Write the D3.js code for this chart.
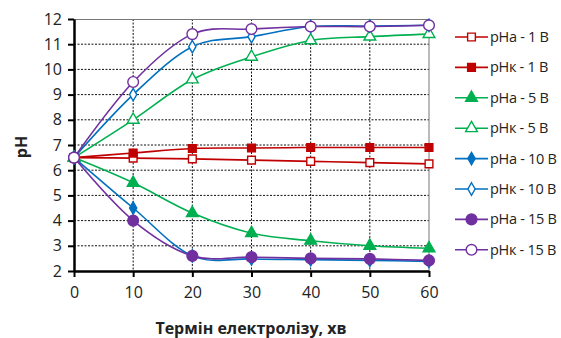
<!DOCTYPE html>
<html>
<head>
<meta charset="utf-8">
<script src="https://cdn.jsdelivr.net/npm/d3@7"></script>
<style>
  body { margin: 0; background: #fff; }
  text { font-family: "Open Sans", "Liberation Sans", sans-serif; fill: #222; }
</style>
</head>
<body>
<div id="chart"></div>
<script>
// time, min
let minutes = [0, 10, 20, 30, 40, 50, 60];

let seriesNames = ["pHa - 1 В", "pHк - 1 В", "pHa - 5 В", "pHк - 5 В",
                   "pHa - 10 В", "pHк - 10 В", "pHa - 15 В", "pHк - 15 В"];

let pHa1  = [6.5, 6.48, 6.45, 6.4, 6.35, 6.3, 6.25];
let pHk1  = [6.5, 6.68, 6.86, 6.88, 6.9, 6.9, 6.9];
let pHa5  = [6.5, 5.5, 4.3, 3.5, 3.2, 3.0, 2.9];
let pHk5  = [6.5, 8.0, 9.6, 10.5, 11.15, 11.3, 11.4];
let pHa10 = [6.5, 4.5, 2.6, 2.48, 2.45, 2.42, 2.38];
let pHk10 = [6.5, 9.0, 10.9, 11.3, 11.7, 11.72, 11.75];
let pHa15 = [6.5, 4.0, 2.6, 2.55, 2.5, 2.48, 2.42];
let pHk15 = [6.5, 9.5, 11.4, 11.6, 11.7, 11.7, 11.75];

let xTicks = [0, 10, 20, 30, 40, 50, 60];
let yTicks = [2, 3, 4, 5, 6, 7, 8, 9, 10, 11, 12];

let red = "#c00000", green = "#00b050", blue = "#0070c0", purple = "#7030a0";

// marker: shape + filled or not
let series = [
    {name: seriesNames[0], values: pHa1,  color: red,    shape: "square",   filled: false, size: 60},
    {name: seriesNames[1], values: pHk1,  color: red,    shape: "square",   filled: true,  size: 60},
    {name: seriesNames[2], values: pHa5,  color: green,  shape: "triangle", filled: true,  size: 60},
    {name: seriesNames[3], values: pHk5,  color: green,  shape: "triangle", filled: false, size: 60},
    {name: seriesNames[4], values: pHa10, color: blue,   shape: "diamond",  filled: true,  size: 45},
    {name: seriesNames[5], values: pHk10, color: blue,   shape: "diamond",  filled: false, size: 45},
    {name: seriesNames[6], values: pHa15, color: purple, shape: "circle",   filled: true,  size: 90},
    {name: seriesNames[7], values: pHk15, color: purple, shape: "circle",   filled: false, size: 90}
];

let symbolTypes = {
    square: d3.symbolSquare,
    triangle: d3.symbolTriangle,
    diamond: d3.symbolDiamond,
    circle: d3.symbolCircle
};

let margin = {top: 19, right: 132, bottom: 67, left: 74};
let width = 561, height = 338;
let plotW = width - margin.left - margin.right;
let plotH = height - margin.top - margin.bottom;

let svg = d3.select("#chart").append("svg")
    .attr("width", width)
    .attr("height", height);

let g = svg.append("g")
    .attr("transform", `translate(${margin.left}, ${margin.top})`);

let x = d3.scaleLinear().domain([0, 60]).range([0, plotW]);
let y = d3.scaleLinear().domain([2, 12]).range([plotH, 0]);

// grid
g.append("g")
    .selectAll("line")
    .data(yTicks.slice(1, -1))
    .enter().append("line")
    .attr("x1", 0).attr("x2", plotW)
    .attr("y1", d => y(d)).attr("y2", d => y(d))
    .attr("stroke", "#111")
    .attr("stroke-width", 1)
    .attr("stroke-dasharray", "2,1.5");

g.append("g")
    .selectAll("line")
    .data(xTicks.slice(1, -1))
    .enter().append("line")
    .attr("y1", 0).attr("y2", plotH)
    .attr("x1", d => x(d)).attr("x2", d => x(d))
    .attr("stroke", "#111")
    .attr("stroke-width", 1)
    .attr("stroke-dasharray", "2,1.5");

// top and right frame
g.append("path")
    .attr("d", `M0,0.5H${plotW}V${plotH}`)
    .attr("fill", "none")
    .attr("stroke", "#777")
    .attr("stroke-width", 1);

// axes
let xAxis = g.append("g")
    .attr("transform", `translate(0, ${plotH})`)
    .call(d3.axisBottom(x).tickValues(xTicks).tickSize(6).tickPadding(10).tickSizeOuter(0));

let yAxis = g.append("g")
    .call(d3.axisLeft(y).tickValues(yTicks).tickSize(6).tickPadding(6).tickSizeOuter(0));

[xAxis, yAxis].forEach(a => {
    a.select(".domain").attr("stroke", "#000").attr("stroke-width", 2.5);
    a.selectAll(".tick line").attr("stroke", "#000").attr("stroke-width", 2);
    a.selectAll(".tick text")
        .style("font-family", "'Open Sans', 'Liberation Sans', sans-serif")
        .style("font-size", "16px")
        .attr("fill", "#222");
});

// lines
let line = d3.line()
    .x((d, i) => x(minutes[i]))
    .y(d => y(d))
    .curve(d3.curveCatmullRom.alpha(0));

series.forEach(s => {
    g.append("path")
        .datum(s.values)
        .attr("fill", "none")
        .attr("stroke", s.color)
        .attr("stroke-width", 1.6)
        .attr("d", line);

    g.selectAll(null)
        .data(s.values)
        .enter().append("path")
        .attr("transform", (d, i) => `translate(${x(minutes[i])}, ${y(d)})`)
        .attr("d", d3.symbol().type(symbolTypes[s.shape]).size(s.size))
        .attr("fill", s.filled ? s.color : "#fff")
        .attr("stroke", s.color)
        .attr("stroke-width", 1.4);
});

// legend
let legend = svg.append("g")
    .attr("transform", "translate(455, 37)");

let rows = legend.selectAll(".row")
    .data(series)
    .enter().append("g")
    .attr("class", "row")
    .attr("transform", (d, i) => `translate(0, ${i * 30.4})`);

rows.append("line")
    .attr("x1", 0).attr("x2", 33)
    .attr("stroke", d => d.color)
    .attr("stroke-width", 1.6);

rows.append("path")
    .attr("transform", "translate(16.5, 0)")
    .attr("d", d => d3.symbol().type(symbolTypes[d.shape]).size(d.size)())
    .attr("fill", d => d.filled ? d.color : "#fff")
    .attr("stroke", d => d.color)
    .attr("stroke-width", 1.4);

rows.append("text")
    .attr("x", 35)
    .attr("dy", "0.35em")
    .style("font-size", "14.5px")
    .style("letter-spacing", "-0.3px")
    .text(d => d.name);

// axis titles
svg.append("text")
    .attr("x", 251)
    .attr("y", 334)
    .attr("text-anchor", "middle")
    .style("font-size", "16px")
    .style("font-weight", "bold")
    .text("Термін електролізу, хв");

svg.append("text")
    .attr("transform", `translate(27, 147) rotate(-90)`)
    .attr("text-anchor", "middle")
    .style("font-size", "16px")
    .style("font-weight", "bold")
    .text("pH");
</script>
</body>
</html>
